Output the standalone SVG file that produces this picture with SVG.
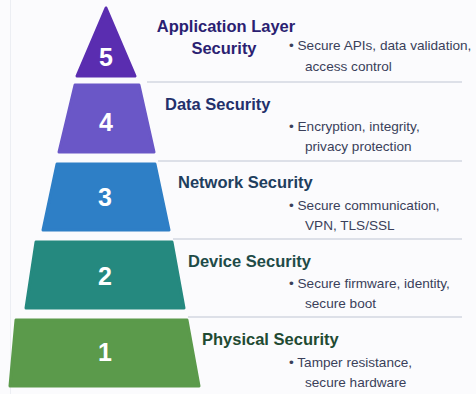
<svg xmlns="http://www.w3.org/2000/svg" width="476" height="394" viewBox="0 0 476 394">
  <style>
    .layer { stroke-width: 3; stroke-linejoin: round; }
    .num { font-family: "Liberation Sans", Arial, sans-serif; font-weight: bold; font-size: 25px; fill: #ffffff; text-anchor: middle; dominant-baseline: central; }
    .title { font-family: "Liberation Sans", Arial, sans-serif; font-weight: bold; font-size: 16.5px; }
    .desc { font-family: "Liberation Sans", Arial, sans-serif; font-size: 13.6px; fill: #3a3f5a; }
    .sep { stroke: #d3d7e0; stroke-width: 1.5; fill: none; }
  </style>
  <rect x="0" y="0" width="476" height="394" fill="#fbfbfd"/>
  <line x1="10.5" y1="0" x2="10.5" y2="394" stroke="#eceef3" stroke-width="1"/>

  <g id="connectors">
    <line class="sep" x1="147" y1="82" x2="462" y2="82"/>
    <line class="sep" x1="158" y1="161" x2="462" y2="161"/>
    <line class="sep" x1="173" y1="239" x2="462" y2="239"/>
    <line class="sep" x1="188" y1="317" x2="462" y2="317"/>
  </g>

  <g id="layer5">
    <polygon class="layer" points="106,8 135,76 77,76" fill="#5a2db0" stroke="#5a2db0"/>
    <text class="num" x="106" y="57">5</text>
    <text class="title" x="226" y="32" text-anchor="middle" fill="#2b1f72">Application Layer</text>
    <text class="title" x="224" y="54" text-anchor="middle" fill="#2b1f72">Security</text>
    <text class="desc" x="289" y="50">•  Secure APIs, data validation,</text>
    <text class="desc" x="305" y="71">access control</text>
  </g>

  <g id="layer4">
    <polygon class="layer" points="75,85 139,85 154,152 59,152" fill="#6a57c7" stroke="#6a57c7"/>
    <text class="num" x="106" y="122">4</text>
    <text class="title" x="165" y="110" fill="#23306b">Data Security</text>
    <text class="desc" x="289" y="131">•  Encryption, integrity,</text>
    <text class="desc" x="305" y="151">privacy protection</text>
  </g>

  <g id="layer3">
    <polygon class="layer" points="57,164 155,164 169,230 43,230" fill="#2e7fc6" stroke="#2e7fc6"/>
    <text class="num" x="105" y="197">3</text>
    <text class="title" x="178" y="188" fill="#1f3e5e">Network Security</text>
    <text class="desc" x="289" y="210">•  Secure communication,</text>
    <text class="desc" x="305" y="230">VPN, TLS/SSL</text>
  </g>

  <g id="layer2">
    <polygon class="layer" points="36,242 172,242 184,308 26,308" fill="#25897f" stroke="#25897f"/>
    <text class="num" x="105" y="276">2</text>
    <text class="title" x="188" y="267" fill="#1f4b48">Device Security</text>
    <text class="desc" x="289" y="288">•  Secure firmware, identity,</text>
    <text class="desc" x="305" y="308">secure boot</text>
  </g>

  <g id="layer1">
    <polygon class="layer" points="16,320 187,320 199,386 10,386" fill="#5b9a4b" stroke="#5b9a4b"/>
    <text class="num" x="105" y="352">1</text>
    <text class="title" x="202" y="345" fill="#1f4a32">Physical Security</text>
    <text class="desc" x="289" y="367">•  Tamper resistance,</text>
    <text class="desc" x="305" y="387">secure hardware</text>
  </g>
</svg>
